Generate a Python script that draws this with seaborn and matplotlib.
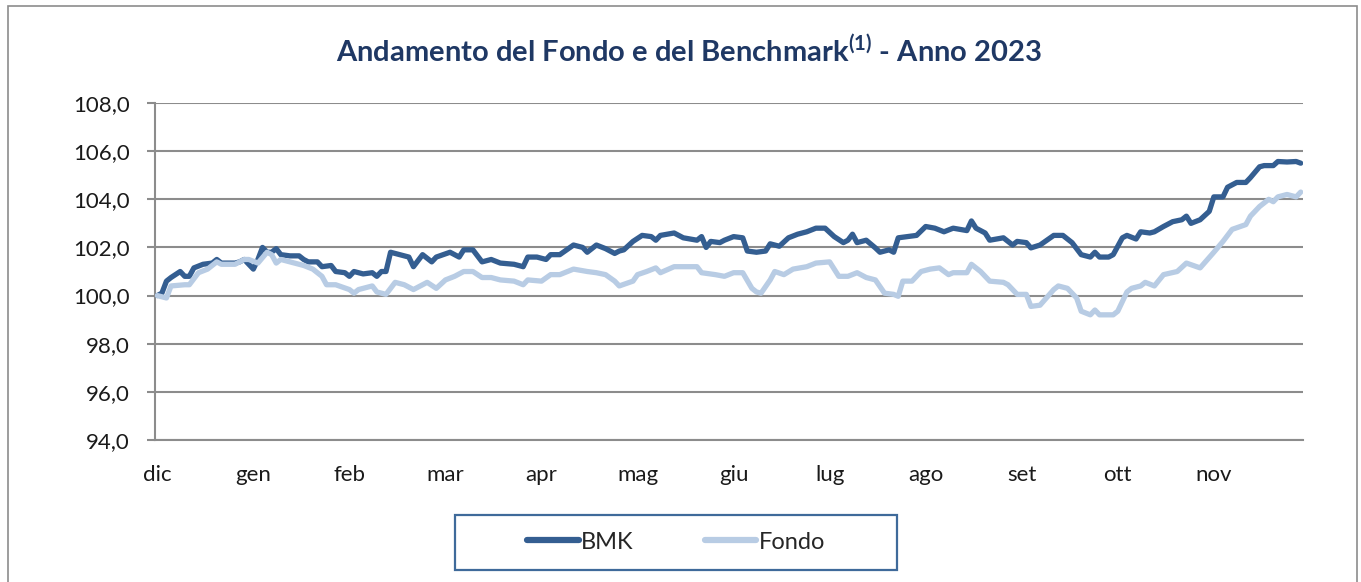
import pandas as pd
import matplotlib.pyplot as plt
import seaborn as sns
from matplotlib.patches import Rectangle
from matplotlib.ticker import FuncFormatter

# valori: indice = giorno di borsa (0 = fine dic 2022)
bmk_day = [0, 1, 2, 3, 5, 6, 7, 8, 10, 12, 13, 14, 17, 18, 19, 20, 21, 22, 23, 24,
           25, 26, 27, 29, 31, 32, 33, 35, 36, 38, 39, 41, 42, 43, 45, 47, 48, 49, 50, 51,
           53, 55, 56, 58, 60, 61, 64, 66, 67, 69, 71, 73, 75, 78, 80, 81, 83, 85, 86, 88,
           91, 93, 94, 96, 98, 100, 101, 102, 104, 106, 108, 109, 110, 113, 115, 118, 119, 120, 121, 123,
           124, 126, 128, 129, 131, 133, 134, 136, 138, 140, 142, 144, 146, 148, 150, 151, 152, 153, 155, 157,
           158, 160, 161, 162, 164, 166, 168, 170, 172, 174, 177, 178, 179, 181, 182, 185, 187, 188, 190, 191,
           193, 196, 198, 200, 202, 204, 205, 206, 208, 209, 211, 212, 214, 215, 217, 218, 220, 222, 224, 225,
           226, 228, 230, 231, 233, 234, 236, 238, 239, 241, 242, 244, 245, 247, 249, 250]
bmk_val = [100.0, 100.1, 100.6, 100.75, 101.0, 100.8, 100.8, 101.15, 101.3, 101.35, 101.5, 101.35, 101.35, 101.4, 101.5, 101.3, 101.1, 101.5, 102.0, 101.8,
           101.8, 101.95, 101.7, 101.65, 101.65, 101.5, 101.4, 101.4, 101.2, 101.25, 101.0, 100.95, 100.8, 101.0, 100.9, 100.95, 100.8, 101.0, 101.0, 101.8,
           101.7, 101.6, 101.2, 101.7, 101.4, 101.6, 101.8, 101.6, 101.9, 101.9, 101.4, 101.5, 101.35, 101.3, 101.2, 101.6, 101.6, 101.5, 101.7, 101.7,
           102.1, 102.0, 101.8, 102.1, 101.95, 101.75, 101.85, 101.9, 102.25, 102.5, 102.45, 102.3, 102.5, 102.6, 102.4, 102.3, 102.45, 102.0, 102.25, 102.2,
           102.3, 102.45, 102.4, 101.85, 101.8, 101.85, 102.15, 102.05, 102.4, 102.55, 102.65, 102.8, 102.8, 102.45, 102.2, 102.3, 102.55, 102.2, 102.3, 101.98,
           101.8, 101.9, 101.8, 102.4, 102.45, 102.5, 102.87, 102.8, 102.65, 102.8, 102.7, 103.1, 102.8, 102.6, 102.3, 102.4, 102.1, 102.25, 102.2, 101.98,
           102.1, 102.5, 102.5, 102.2, 101.7, 101.6, 101.8, 101.6, 101.6, 101.7, 102.4, 102.5, 102.35, 102.65, 102.6, 102.65, 102.87, 103.07, 103.15, 103.3,
           103.0, 103.15, 103.5, 104.1, 104.1, 104.5, 104.7, 104.7, 104.9, 105.35, 105.4, 105.4, 105.57, 105.55, 105.57, 105.5]

fondo_day = [0, 2, 3, 6, 7, 9, 11, 13, 14, 17, 19, 20, 22, 24, 25, 26, 27, 30, 32, 34,
             36, 37, 39, 42, 43, 44, 47, 48, 49, 50, 52, 54, 56, 59, 61, 63, 65, 67, 69, 71,
             73, 75, 78, 80, 81, 84, 86, 88, 91, 94, 96, 98, 100, 101, 104, 105, 107, 109, 110, 113,
             116, 118, 119, 122, 124, 126, 128, 130, 131, 132, 134, 135, 137, 139, 142, 144, 147, 149, 151, 153,
             155, 157, 159, 161, 162, 163, 165, 167, 169, 171, 173, 174, 177, 178, 180, 182, 185, 186, 188, 190,
             191, 193, 196, 197, 199, 201, 202, 204, 205, 206, 209, 210, 212, 213, 215, 216, 218, 220, 223, 225,
             228, 231, 233, 235, 238, 239, 241, 243, 244, 245, 247, 249, 250]
fondo_val = [100.0, 99.9, 100.4, 100.45, 100.45, 100.95, 101.1, 101.4, 101.3, 101.3, 101.5, 101.5, 101.35, 101.8, 101.7, 101.35, 101.5, 101.35, 101.25, 101.1,
             100.8, 100.45, 100.45, 100.25, 100.1, 100.25, 100.4, 100.15, 100.1, 100.05, 100.55, 100.45, 100.25, 100.55, 100.3, 100.65, 100.8, 101.0, 101.0, 100.75,
             100.75, 100.65, 100.6, 100.45, 100.65, 100.6, 100.87, 100.87, 101.1, 101.0, 100.95, 100.87, 100.6, 100.4, 100.6, 100.87, 101.0, 101.15, 100.95, 101.2,
             101.2, 101.2, 100.95, 100.87, 100.8, 100.95, 100.95, 100.3, 100.15, 100.1, 100.65, 101.0, 100.87, 101.1, 101.2, 101.35, 101.4, 100.8, 100.8, 100.95,
             100.75, 100.65, 100.1, 100.05, 99.97, 100.6, 100.6, 101.0, 101.1, 101.15, 100.87, 100.95, 100.95, 101.3, 101.0, 100.6, 100.55, 100.45, 100.05, 100.05,
             99.55, 99.6, 100.25, 100.4, 100.3, 99.9, 99.35, 99.2, 99.4, 99.2, 99.2, 99.35, 100.15, 100.3, 100.4, 100.55, 100.4, 100.87, 101.0, 101.35,
             101.15, 101.8, 102.25, 102.75, 102.95, 103.3, 103.7, 104.0, 103.9, 104.1, 104.2, 104.1, 104.3]

mesi = ['dic', 'gen', 'feb', 'mar', 'apr', 'mag', 'giu', 'lug', 'ago', 'set', 'ott', 'nov']
mesi_pos = [0, 21, 42, 63, 84, 105, 126, 147, 168, 189, 210, 231]
y_ticks = [94, 96, 98, 100, 102, 104, 106, 108]

bmk_df = pd.DataFrame({'giorno': bmk_day, 'valore': bmk_val})
fondo_df = pd.DataFrame({'giorno': fondo_day, 'valore': fondo_val})

sns.set_theme(style='white')
plt.rcParams['font.family'] = ['Lato', 'DejaVu Sans']
plt.rcParams['mathtext.default'] = 'regular'

fig = plt.figure(figsize=(13.61, 5.82), dpi=100)
ax = fig.add_axes([0.1139, 0.244, 0.8435, 0.579])

# bordo esterno del grafico
fig.patches.append(Rectangle((8 / 1361, -0.01), 1349 / 1361, 1.0, transform=fig.transFigure,
                             fill=False, edgecolor='#8c8c8c', linewidth=1.2))

blu = '#345E91'
azzurro = '#B8CCE4'
sns.lineplot(data=bmk_df, x='giorno', y='valore', ax=ax, color=blu, linewidth=3.8,
             label='BMK', zorder=3)
sns.lineplot(data=fondo_df, x='giorno', y='valore', ax=ax, color=azzurro, linewidth=3.8,
             label='Fondo', zorder=4)

ax.set_xlim(-0.5, 250.5)
ax.set_ylim(94, 108)
ax.set_yticks(y_ticks)
ax.yaxis.set_major_formatter(FuncFormatter(lambda v, p: f'{v:.1f}'.replace('.', ',')))
ax.set_xticks(mesi_pos)
ax.set_xticklabels(mesi)
ax.grid(axis='y', color='#8c8c8c', linewidth=1.5)
ax.set_axisbelow(True)
ax.set_xlabel('')
ax.set_ylabel('')

for s in ['top', 'right']:
    ax.spines[s].set_visible(False)
for s in ['left', 'bottom']:
    ax.spines[s].set_color('#8c8c8c')
    ax.spines[s].set_linewidth(1.5)

ax.tick_params(axis='y', which='major', left=True, length=6, width=1.5, color='#8c8c8c',
               labelsize=16, labelcolor='#1a1a1a', pad=12)
ax.tick_params(axis='x', which='major', bottom=False, length=0,
               labelsize=16, labelcolor='#1a1a1a', pad=18)

fig.text(0.506, 0.913, r'Andamento del Fondo e del Benchmark$^{(1)}$ - Anno 2023',
         ha='center', va='center', fontsize=21, fontweight='bold', color='#1F3864')

# legenda in riquadro sotto il grafico
leg = ax.legend(loc='center', bbox_to_anchor=(0.4967, 0.0687), bbox_transform=fig.transFigure,
                ncol=2, frameon=False, fontsize=17, handlelength=2.2, handletextpad=0.1,
                columnspacing=3.0)
for line in leg.get_lines():
    line.set_linewidth(4.5)
    line.set_solid_capstyle('round')
fig.patches.append(Rectangle((455 / 1361, 1 - 570 / 582), 442 / 1361, 55 / 582,
                             transform=fig.transFigure, fill=False, edgecolor='#3F6A9A',
                             linewidth=1.6))

fig.savefig('out.png', dpi=100)
